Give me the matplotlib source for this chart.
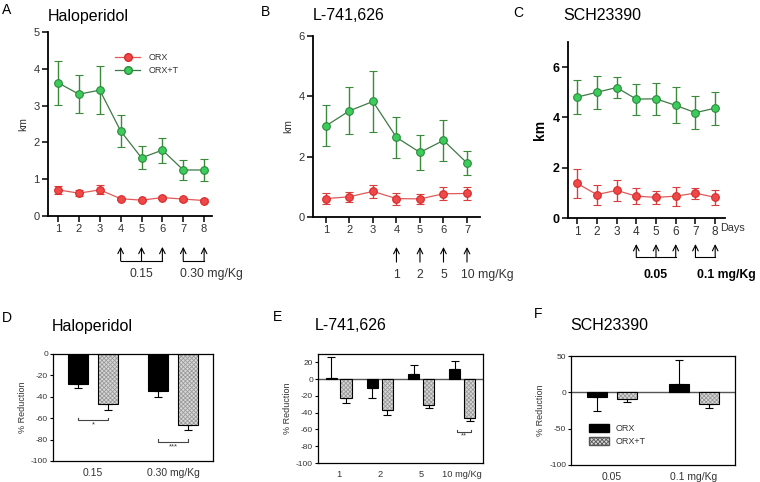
import numpy as np
import matplotlib
matplotlib.use("Agg")
import matplotlib.pyplot as plt
from matplotlib.patches import Patch
from matplotlib.lines import Line2D

plt.rcParams['font.family'] = ['Liberation Sans', 'DejaVu Sans']
plt.rcParams['axes.unicode_minus'] = False
plt.rcParams['hatch.linewidth'] = 0.6

# ---- line panels (km per day) ----
days_a = [1, 2, 3, 4, 5, 6, 7, 8]
orx_a = [0.71, 0.62, 0.71, 0.47, 0.43, 0.50, 0.46, 0.42]
orx_a_err = [0.10, 0.08, 0.12, 0.03, 0.03, 0.05, 0.04, 0.04]
orxt_a = [3.62, 3.31, 3.42, 2.31, 1.58, 1.79, 1.25, 1.25]
orxt_a_err = [0.60, 0.51, 0.65, 0.43, 0.31, 0.34, 0.27, 0.31]

days_b = [1, 2, 3, 4, 5, 6, 7]
orx_b = [0.61, 0.67, 0.85, 0.61, 0.60, 0.77, 0.78]
orx_b_err = [0.18, 0.17, 0.22, 0.20, 0.17, 0.22, 0.22]
orxt_b = [3.02, 3.52, 3.83, 2.64, 2.14, 2.54, 1.79]
orxt_b_err = [0.68, 0.78, 1.00, 0.67, 0.59, 0.68, 0.41]

days_c = [1, 2, 3, 4, 5, 6, 7, 8]
orx_c = [1.38, 0.93, 1.10, 0.87, 0.82, 0.87, 0.99, 0.82]
orx_c_err = [0.57, 0.40, 0.42, 0.32, 0.25, 0.38, 0.22, 0.30]
orxt_c = [4.81, 5.00, 5.19, 4.73, 4.74, 4.48, 4.19, 4.37]
orxt_c_err = [0.67, 0.65, 0.42, 0.62, 0.65, 0.72, 0.66, 0.66]

# ---- bar panels (% reduction) ----
doses_d = ["0.15", "0.30 mg/Kg"]
red_orx_d = [-28, -35]
red_orx_d_err = [4, 5]
red_orxt_d = [-47, -66]
red_orxt_d_err = [5, 5]

doses_e = ["1", "2", "5", "10 mg/Kg"]
red_orx_e = [2, -11, 6, 12]
red_orx_e_err = [25, 11, 11, 10]
red_orxt_e = [-22, -37, -31, -46]
red_orxt_e_err = [6, 6, 3, 4]

doses_f = ["0.05", "0.1 mg/Kg"]
red_orx_f = [-6, 12]
red_orx_f_err = [20, 32]
red_orxt_f = [-9, -16]
red_orxt_f_err = [4, 5]

RED_FACE, RED_EDGE, RED_LINE = '#f04848', '#d42a2a', '#e05a5a'
GRN_FACE, GRN_EDGE, GRN_LINE = '#3ccc5c', '#2a8a3a', '#3e7a44'
TXT = '#333333'
HATCH_FACE, HATCH_COL = '#d8d8d8', '#9a9a9a'

fig = plt.figure(figsize=(7.6, 4.82), dpi=100)


def line_panel(rect, days, orx, orx_err, orxt, orxt_err, ylim, yticks, xlim,
               tick_fs=8, bold=False):
    ax = fig.add_axes(rect)
    ax.errorbar(days, orxt, yerr=orxt_err, color=GRN_LINE, ecolor='#3a8a3a',
                lw=0.9, elinewidth=1.0, capsize=3, capthick=1.0, marker='o',
                ms=5.5, mfc=GRN_FACE, mec=GRN_EDGE, mew=0.8, label='ORX+T', zorder=3)
    ax.errorbar(days, orx, yerr=orx_err, color=RED_LINE, ecolor='#d84040',
                lw=0.9, elinewidth=1.0, capsize=3, capthick=1.0, marker='o',
                ms=5.5, mfc=RED_FACE, mec=RED_EDGE, mew=0.8, label='ORX', zorder=3)
    ax.set_ylim(*ylim)
    ax.set_xlim(*xlim)
    ax.set_yticks(yticks)
    ax.set_xticks(days)
    for s in ['top', 'right']:
        ax.spines[s].set_visible(False)
    for s in ['left', 'bottom']:
        ax.spines[s].set_linewidth(1.3)
    ax.tick_params(labelsize=tick_fs, colors='black', labelcolor=TXT if not bold else 'black',
                   width=1.1, length=4, pad=2)
    if bold:
        for t in ax.get_yticklabels():
            t.set_fontweight('bold')
    ax.set_ylabel('km', fontsize=tick_fs + (1 if bold else -0.5),
                  color=TXT if not bold else 'black',
                  fontweight='bold' if bold else 'normal', labelpad=4)
    return ax


def arrows(ax, groups, tip, base, lw=0.8):
    tr = ax.get_xaxis_transform()
    for g in groups:
        for x in g:
            ax.annotate('', xy=(x, tip), xytext=(x, base), xycoords=tr, textcoords=tr,
                        arrowprops=dict(arrowstyle='->', lw=lw, color='black',
                                        shrinkA=0, shrinkB=0), annotation_clip=False)
        if len(g) > 1:
            ax.plot([g[0], g[-1]], [base, base], transform=tr, color='black', lw=lw,
                    clip_on=False)


# Panel A
axA = line_panel([0.0632, 0.5519, 0.2158, 0.3817], days_a, orx_a, orx_a_err,
                 orxt_a, orxt_a_err, (0, 5), [0, 1, 2, 3, 4, 5], (0.52, 8.38))
h = [Line2D([], [], color=RED_LINE, marker='o', mfc=RED_FACE, mec=RED_EDGE, ms=5.5, lw=0.9),
     Line2D([], [], color=GRN_LINE, marker='o', mfc=GRN_FACE, mec=GRN_EDGE, ms=5.5, lw=0.9)]
axA.legend(h, ['ORX', 'ORX+T'], loc='upper left', bbox_to_anchor=(0.36, 0.93), frameon=False,
           fontsize=6.5, handlelength=2.8, labelspacing=0.45, handletextpad=0.9,
           labelcolor=TXT)
arrows(axA, [[4, 5, 6], [7, 8]], -0.168, -0.245)
trA = axA.get_xaxis_transform()
axA.text(5, -0.285, '0.15', transform=trA, ha='center', va='top', fontsize=8.8, color=TXT)
axA.text(6.85, -0.285, '0.30 mg/Kg', transform=trA, ha='left', va='top', fontsize=8.8,
         color=TXT)

# Panel B
axB = line_panel([0.4118, 0.5498, 0.2197, 0.3755], days_b, orx_b, orx_b_err,
                 orxt_b, orxt_b_err, (0, 6), [0, 2, 4, 6], (0.45, 7.55))
arrows(axB, [[4], [5], [6], [7]], -0.166, -0.249)
trB = axB.get_xaxis_transform()
for x, lab in zip([4, 5, 6], ['1', '2', '5']):
    axB.text(x, -0.29, lab, transform=trB, ha='center', va='top', fontsize=8.8, color=TXT)
axB.text(6.75, -0.29, '10 mg/Kg', transform=trB, ha='left', va='top', fontsize=8.8,
         color=TXT)

# Panel C
axC = line_panel([0.7474, 0.5477, 0.2066, 0.3651], days_c, orx_c, orx_c_err,
                 orxt_c, orxt_c_err, (0, 7), [0, 2, 4, 6], (0.54, 8.5),
                 tick_fs=9, bold=True)
axC.tick_params(axis='x', labelsize=8.5, labelcolor=TXT)
for t in axC.get_xticklabels():
    t.set_fontweight('normal')
trC = axC.get_xaxis_transform()
axC.text(8.27, -0.03, 'Days', transform=trC, ha='left', va='top', fontsize=7.8, color=TXT)
arrows(axC, [[4, 5, 6], [7, 8]], -0.148, -0.222)
axC.text(5, -0.29, '0.05', transform=trC, ha='center', va='top', fontsize=8.8,
         fontweight='bold')
axC.text(7.1, -0.29, '0.1 mg/Kg', transform=trC, ha='left', va='top', fontsize=8.8,
         fontweight='bold')


def bar_panel(rect, centers, labels, orx, orx_err, orxt, orxt_err, ylim, yticks, xlim,
              width, offset, zero_line=True, xfs=7.5):
    ax = fig.add_axes(rect)
    x = np.array(centers, dtype=float)
    lo_o = [e if v < 0 else 0 for v, e in zip(orx, orx_err)]
    hi_o = [e if v >= 0 else 0 for v, e in zip(orx, orx_err)]
    lo_t = [e if v < 0 else 0 for v, e in zip(orxt, orxt_err)]
    hi_t = [e if v >= 0 else 0 for v, e in zip(orxt, orxt_err)]
    ax.bar(x - offset, orx, width, color='black', edgecolor='black', lw=0.8, zorder=2)
    ax.errorbar(x - offset, orx, yerr=[lo_o, hi_o], fmt='none', ecolor='black',
                elinewidth=0.8, capsize=3, capthick=0.8, zorder=1)
    ax.bar(x + offset, orxt, width, color=HATCH_FACE, edgecolor=HATCH_COL, hatch='xxxxxxxx',
           lw=0, zorder=2)
    ax.bar(x + offset, orxt, width, color='none', edgecolor='black', lw=0.8, zorder=3)
    ax.errorbar(x + offset, orxt, yerr=[lo_t, hi_t], fmt='none', ecolor='black',
                elinewidth=0.8, capsize=3, capthick=0.8, zorder=1)
    if zero_line:
        ax.axhline(0, color='#555555', lw=1.0, zorder=1)
    ax.set_xlim(*xlim)
    ax.set_ylim(*ylim)
    ax.set_yticks(yticks)
    ax.set_xticks(x)
    ax.set_xticklabels(labels)
    ax.tick_params(axis='x', length=0, pad=5, labelsize=xfs, labelcolor=TXT)
    ax.tick_params(axis='y', length=2.5, width=0.8, pad=1, labelsize=6, labelcolor=TXT)
    for s in ax.spines.values():
        s.set_linewidth(0.9)
    ax.set_ylabel('% Reduction', fontsize=6.5, color=TXT, labelpad=3)
    return ax


def bracket(ax, x0, x1, y, stars, dy=2.5, sy=4):
    ax.plot([x0, x0, x1, x1], [y + dy, y, y, y + dy], color='#444444', lw=0.8)
    ax.text((x0 + x1) / 2, y - sy, stars, ha='center', va='center', fontsize=5.5, color=TXT)


# Panel D
axD = bar_panel([0.0697, 0.0436, 0.2105, 0.222], [1, 3], doses_d, red_orx_d, red_orx_d_err,
                red_orxt_d, red_orxt_d_err, (-100, 0), [0, -20, -40, -60, -80, -100],
                (0, 4), 0.5, 0.375, zero_line=False)
bracket(axD, 0.625, 1.375, -62, '*')
bracket(axD, 2.625, 3.375, -82, '***', sy=5)

# Panel E
axE = bar_panel([0.4184, 0.0394, 0.2171, 0.2261], [0.5, 1.5, 2.5, 3.5], doses_e,
                red_orx_e, red_orx_e_err, red_orxt_e, red_orxt_e_err, (-100, 30),
                [20, 0, -20, -40, -60, -80, -100], (0, 4), 0.27, 0.18, xfs=6.7)
bracket(axE, 3.36, 3.72, -63, '**', sy=5)

# Panel F
axF = bar_panel([0.7513, 0.0353, 0.2158, 0.2261], [1, 3], doses_f, red_orx_f, red_orx_f_err,
                red_orxt_f, red_orxt_f_err, (-100, 50), [50, 0, -50, -100],
                (0, 4), 0.49, 0.37)
axF.legend([Patch(facecolor='black', edgecolor='black'),
            Patch(facecolor=HATCH_FACE, edgecolor='#555555', hatch='xxxxxxxx')],
           ['ORX', 'ORX+T'], loc='lower left', bbox_to_anchor=(0.06, 0.1), frameon=False,
           fontsize=6.5, handlelength=2.2, handleheight=0.9, labelspacing=0.4,
           labelcolor=TXT)

# panel letters and titles
letters = [('A', 7, 10), ('B', 265, 12), ('C', 518, 13), ('D', 7, 318), ('E', 277, 317),
           ('F', 538, 314)]
for lab, px, py in letters:
    fig.text(px / 760, 1 - py / 482, lab, ha='center', va='center', fontsize=10)

titles = [('Haloperidol', 48, 16), ('L-741,626', 313, 15), ('SCH23390', 563, 16),
          ('Haloperidol', 52, 326), ('L-741,626', 315, 325), ('SCH23390', 570, 326)]
for lab, px, py in titles:
    fig.text(px / 760, 1 - py / 482, lab, ha='left', va='center', fontsize=11.5)

fig.savefig('out.png', dpi=100)
